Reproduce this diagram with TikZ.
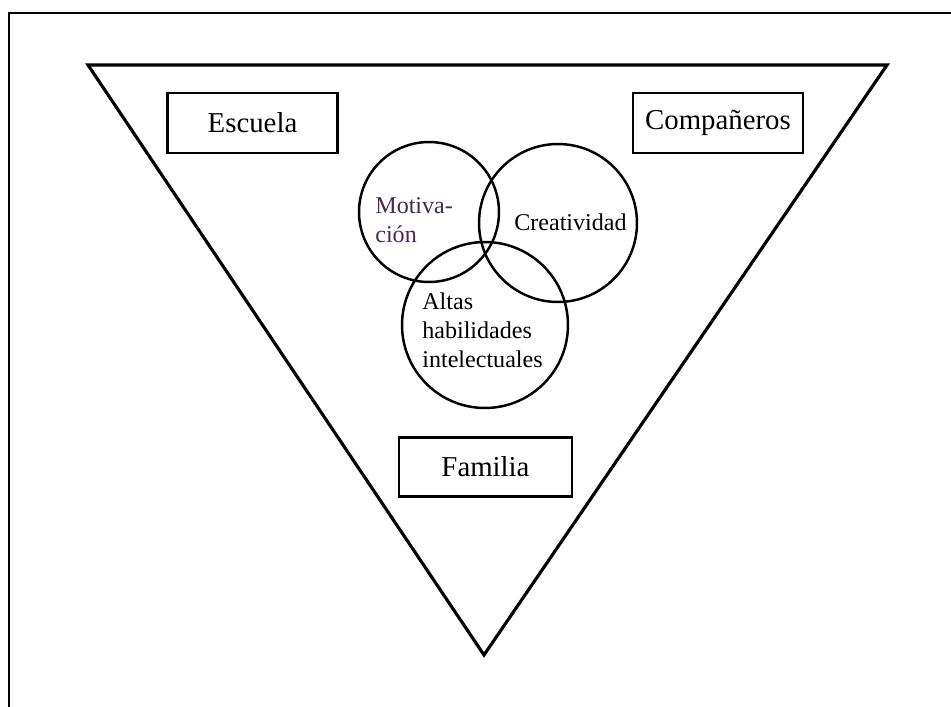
\documentclass[tikz,border=0pt]{standalone}
\usepackage{fontspec}
\setmainfont{Liberation Serif}
\definecolor{motivcol}{RGB}{72,40,82}
\begin{document}
\begin{tikzpicture}[x=0.02cm,y=-0.02cm,
  box/.style={draw,line width=1.5pt,minimum width=3.4cm,minimum height=1.2cm,inner sep=0pt,font=\fontsize{16.4}{19}\selectfont},
  venn/.style={draw,circle,line width=1.4pt,inner sep=0pt},
  lbl/.style={font=\fontsize{13.7}{16.3}\selectfont,align=left,inner sep=0pt}]
\useasboundingbox (0,0) rectangle (951,707);
% frame
\draw[line width=1.4pt] (9,707) -- (9,13) -- (951,13);
% triangle
\draw[line width=1.8pt] (88,65) -- (887,65) -- (484,655) -- cycle;
% boxes
\node[box] (escuela) at (252.5,123) {Escuela};
\node[box] (companeros) at (718,123) {Compañeros};
\node[box,minimum width=3.46cm,minimum height=1.18cm] (familia) at (485.5,467) {Familia};
% circles
\node[venn,minimum size=2.8cm] (motiv) at (429,212) {};
\node[venn,minimum size=3.16cm] (creat) at (558,223) {};
\node[venn,minimum size=3.32cm] (altas) at (485,325) {};
% circle labels (base = last line)
\node[lbl,text=motivcol,anchor=base west] (motivtxt) at (375,242) {Motiva-\\ción};
\node[lbl,anchor=base west] (creattxt) at (514,230) {Creatividad};
\node[lbl,anchor=base west] (altastxt) at (422,367) {Altas\\habilidades\\intelectuales};
\end{tikzpicture}
\end{document}
